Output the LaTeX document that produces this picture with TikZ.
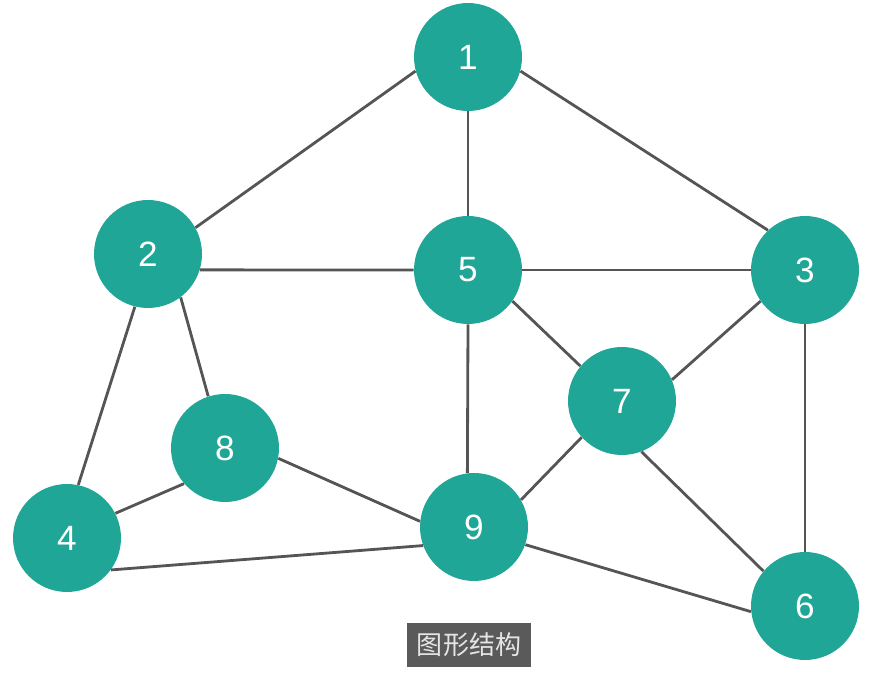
\documentclass[tikz,border=0pt]{standalone}
\usepackage{fontspec}
\setmainfont{Liberation Sans}
\newfontfamily\cjk{Noto Sans CJK SC}
\usepackage{xcolor}
\usepackage{tikz}
\definecolor{graphteal}{RGB}{32,166,150}
\definecolor{graphedge}{RGB}{85,85,85}
\definecolor{graphtag}{RGB}{90,90,90}
\tikzset{
  graphpicture/.style={x=0.02cm, y=-0.02cm},
  graphvertex/.style={circle, fill=graphteal, minimum size=2.16cm, inner sep=0pt, text=white, font=\fontsize{20}{24}\selectfont},
  graphedgeline/.style={draw=graphedge, line width=1.6pt},
  graphtagbox/.style={fill=graphtag, text=white!90!black, minimum width=2.48cm, minimum height=0.88cm, inner sep=0pt, font=\cjk\fontsize{14.8}{16}\selectfont}
}
\begin{document}
\begin{tikzpicture}[graphpicture]
\useasboundingbox (0,0) rectangle (896,678);
\node[graphvertex] (v1) at (468,57) {1};
\node[graphvertex] (v2) at (148,254) {2};
\node[graphvertex] (v5) at (468,270) {5};
\node[graphvertex] (v3) at (805,270) {3};
\node[graphvertex] (v7) at (622,401) {7};
\node[graphvertex] (v8) at (225,448) {8};
\node[graphvertex] (v4) at (67,538) {4};
\node[graphvertex] (v9) at (474,527) {9};
\node[graphvertex] (v6) at (805,606) {6};
\node[graphtagbox] (tag) at (469,645) {图形结构};
% edges leave the circles at fixed angles
\draw[graphedgeline] (v1.195) -- (v2.29);
\draw[graphedgeline] (v1.270) -- (v5.90);
\draw[graphedgeline] (v1.345) -- (v3.133);
\draw[graphedgeline] (v2.343) -- (v5.180);
\draw[graphedgeline] (v5.0) -- (v3.180);
\draw[graphedgeline] (v2.256) -- (v4.78);
\draw[graphedgeline] (v2.307) -- (v8.108);
\draw[graphedgeline] (v5.270) -- (v9.97);
\draw[graphedgeline] (v5.325) -- (v7.140);
\draw[graphedgeline] (v3.215) -- (v7.23);
\draw[graphedgeline] (v3.270) -- (v6.90);
\draw[graphedgeline] (v7.222) -- (v9.30);
\draw[graphedgeline] (v7.291) -- (v6.140);
\draw[graphedgeline] (v8.221) -- (v4.27);
\draw[graphedgeline] (v8.349) -- (v9.174);
\draw[graphedgeline] (v4.324) -- (v9.200);
\draw[graphedgeline] (v9.341) -- (v6.186);
\end{tikzpicture}
\end{document}
